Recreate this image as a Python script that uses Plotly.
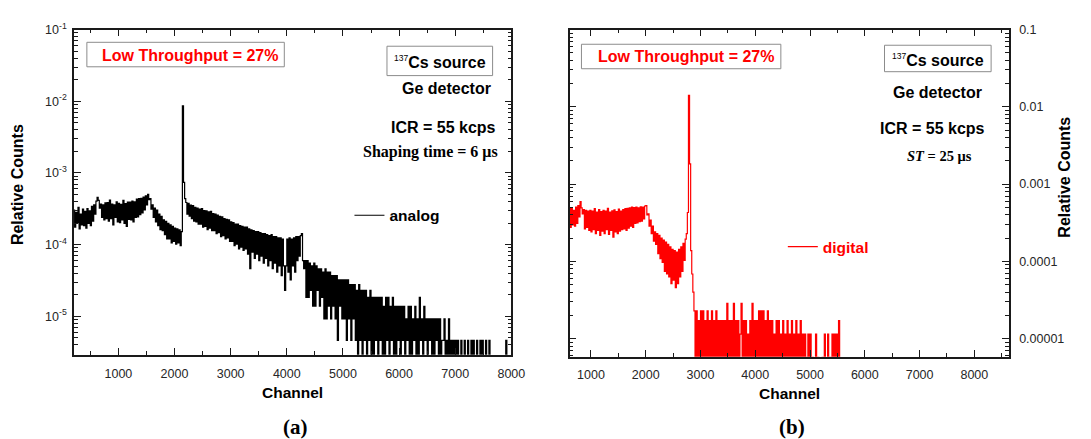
import plotly.graph_objects as go

W, H = 1091, 439

# ---------------- data ----------------
CHANNEL_STEP = 20

# (a) analog spectrum, counts per 20-channel sample starting at channel 200
analog_start = 200
analog_counts = [
    66, 38, 61, 44, 72, 36, 58, 41, 68, 40,
    63, 37, 69, 43, 64, 40, 74, 46, 78, 58,
    88, 99, 90, 70, 80, 52, 78, 48, 83, 50,
    84, 46, 91, 50, 80, 41, 78, 52, 86, 45,
    82, 44, 79, 48, 90, 43, 81, 39, 85, 49,
    85, 48, 88, 45, 86, 52, 94, 53, 95, 57,
    96, 60, 100, 66, 104, 78, 109, 92, 95, 68,
    78, 52, 70, 45, 66, 40, 58, 35, 54, 34,
    48, 30, 46, 26, 43, 26, 41, 23, 39, 24,
    37, 22, 36, 23, 35, 21, 33, 1870, 160, 95,
    84, 58, 82, 54, 77, 50, 76, 46, 72, 45,
    70, 42, 68, 42, 69, 38, 65, 39, 64, 35,
    62, 37, 63, 34, 59, 34, 58, 31, 56, 32,
    54, 28, 53, 29, 50, 26, 49, 27, 48, 24,
    45, 24, 44, 21, 42, 22, 42, 19, 40, 20,
    39, 18, 38, 19, 38, 16, 36, 10, 35, 17,
    34, 14, 33, 16, 33, 13, 32, 15, 31, 12,
    31, 14, 30, 11, 29, 13, 30, 10, 28, 12,
    28, 9, 27, 11, 27, 8, 26, 11, 5, 11,
    26, 9, 27, 7, 26, 11, 27, 9, 28, 13,
    28, 15, 29, 31, 13, 10, 13, 4, 13, 4,
    12, 5, 11, 3, 12, 3, 11, 5, 10, 3,
    10, 4, 9, 2, 10, 2, 9, 3, 9, 2,
    8, 3, 8, 2, 8, 1, 7, 3, 7, 2,
    7, 2, 7, 1, 7, 2, 6, 1, 6, 2,
    6, 1, 5, 0, 6, 1, 5, 0, 5, 1,
    5, 0, 4, 1, 5, 0, 4, 0, 4, 1,
    4, 0, 4, 1, 4, 0, 3, 0, 4, 1,
    4, 0, 3, 1, 4, 0, 3, 0, 3, 1,
    3, 0, 3, 1, 3, 0, 2, 1, 3, 0,
    3, 0, 2, 1, 3, 0, 2, 0, 4, 1,
    2, 0, 3, 1, 2, 0, 2, 1, 2, 0,
    2, 0, 2, 1, 2, 0, 2, 0, 1, 1,
    2, 0, 1, 0, 2, 0, 1, 0, 1, 0,
    1, 0, 1, 0, 0, 1, 0, 0, 1, 0,
    0, 1, 0, 0, 1, 0, 1, 0, 0, 1,
    0, 0, 1, 0, 1, 0, 0, 1, 0, 0,
    1, 0, 0, 0, 0, 0, 0, 0, 0, 0,
    0, 0, 0, 0, 0, 1, 0, 0, 0, 0,
    0,
]
ANALOG_TOTAL = 217000          # counts that make relative count = 1

# (b) digital spectrum, counts per 20-channel sample starting at channel 600
digital_start = 600
digital_counts = [
    84, 48, 86, 52, 80, 50, 88, 54, 92, 66,
    104, 86, 72, 82, 46, 80, 48, 78, 44, 80,
    42, 78, 45, 84, 40, 76, 44, 82, 38, 77,
    43, 80, 40, 78, 45, 85, 39, 76, 44, 79,
    36, 81, 42, 77, 40, 83, 43, 78, 45, 82,
    46, 84, 44, 85, 47, 86, 50, 88, 48, 87,
    54, 88, 55, 86, 57, 89, 58, 88, 62, 91,
    92, 70, 72, 50, 60, 40, 50, 32, 42, 29,
    40, 22, 38, 19, 35, 17, 33, 13, 31, 12,
    29, 11, 27, 9, 25, 10, 24, 8, 23, 9,
    25, 11, 27, 13, 30, 18, 34, 40, 75, 2470,
    320, 24, 12, 7, 4, 1, 4, 0, 3, 1,
    4, 0, 4, 1, 3, 0, 4, 1, 3, 0,
    4, 1, 3, 0, 4, 1, 3, 0, 3, 1,
    3, 0, 3, 1, 5, 0, 3, 1, 3, 0,
    5, 0, 3, 1, 3, 0, 2, 5, 0, 3,
    1, 3, 0, 2, 1, 3, 0, 5, 1, 3,
    0, 3, 1, 4, 0, 4, 1, 4, 0, 3,
    1, 4, 0, 3, 1, 3, 0, 2, 1, 3,
    0, 3, 1, 2, 0, 3, 1, 2, 0, 3,
    1, 2, 0, 3, 1, 2, 0, 3, 1, 2,
    0, 3, 1, 2, 0, 2, 0, 1, 2, 0,
    2, 0, 1, 0, 0, 2, 0, 1, 0, 0,
    0, 1, 0, 2, 0, 0, 2, 0, 1, 0,
    2, 0, 2, 1, 2, 0, 3, 0, 0, 0,
    0,
]
DIGITAL_TOTAL = 175000

x_tick_vals = [1000, 2000, 3000, 4000, 5000, 6000, 7000, 8000]
x_minor_vals = [500, 1500, 2500, 3500, 4500, 5500, 6500, 7500, 8500]
y_tick_vals = [1e-5, 1e-4, 1e-3, 1e-2, 1e-1]
y_tick_text_a = ["10<sup>-5</sup>", "10<sup>-4</sup>", "10<sup>-3</sup>",
                 "10<sup>-2</sup>", "10<sup>-1</sup>"]
y_tick_text_b = ["0.00001", "0.0001", "0.001", "0.01", "0.1"]

# ---------------- helpers ----------------
def rel(counts, total):
    # zero counts lie below the log-axis floor
    return [c / total if c > 0 else 1e-7 for c in counts]

def chans(start, n):
    return [start + CHANNEL_STEP * i for i in range(n)]

def px(x):
    return x / W

def py(y):
    return 1 - y / H

minor_y = [k * 10.0 ** e for e in range(-6, -1) for k in range(2, 10)]

SANS = "Liberation Sans"
SERIF = "Liberation Serif"
RED = "#ff0000"

fig = go.Figure()
fig.add_trace(go.Scatter(
    x=chans(analog_start, len(analog_counts)), y=rel(analog_counts, ANALOG_TOTAL),
    mode="lines", line=dict(color="black", width=1.2, shape="hv", simplify=False),
    name="analog", xaxis="x", yaxis="y", legend="legend", showlegend=True))
fig.add_trace(go.Scatter(
    x=chans(digital_start, len(digital_counts)), y=rel(digital_counts, DIGITAL_TOTAL),
    mode="lines", line=dict(color=RED, width=1.2, shape="hv", simplify=False),
    name="digital", xaxis="x2", yaxis="y2", legend="legend2", showlegend=True))

axis_common = dict(
    showline=True, linecolor="#1a1a1a", linewidth=1.5, mirror="allticks",
    ticks="inside", ticklen=7, tickwidth=1, tickcolor="#1a1a1a",
    showgrid=False, zeroline=False,
    tickfont=dict(family=SANS, size=12.5, color="#262626"),
)
minor_common = dict(ticks="inside", ticklen=4, tickwidth=1, tickcolor="#1a1a1a", showgrid=False)

fig.update_layout(
    width=W, height=439,
    showlegend=True,
    margin=dict(l=0, r=0, t=0, b=0),
    paper_bgcolor="white", plot_bgcolor="white",
    xaxis=dict(axis_common, domain=[px(75), px(518)], range=[210, 8000],
               tickmode="array", tickvals=x_tick_vals, anchor="y",
               minor=dict(minor_common, tickmode="array", tickvals=x_minor_vals),
               ticklabelstandoff=6),
    yaxis=dict(axis_common, type="log", domain=[py(353), py(21)], range=[-5.536, -1],
               tickmode="array", tickvals=y_tick_vals, ticktext=y_tick_text_a, anchor="x",
               minor=dict(minor_common, tickmode="array", tickvals=minor_y),
               ticklabelstandoff=3),
    xaxis2=dict(axis_common, domain=[px(577), px(1022)], range=[610, 8630],
                tickmode="array", tickvals=x_tick_vals, anchor="y2",
                minor=dict(minor_common, tickmode="array", tickvals=x_minor_vals),
                ticklabelstandoff=6),
    yaxis2=dict(axis_common, type="log", side="right", domain=[py(355), py(21)],
                range=[-5.235, -1], tickmode="array", tickvals=y_tick_vals,
                ticktext=y_tick_text_b, anchor="x2",
                minor=dict(minor_common, tickmode="array", tickvals=minor_y),
                ticklabelstandoff=6),
    legend=dict(x=px(354), y=py(211), xanchor="left", yanchor="middle",
                bgcolor="rgba(0,0,0,0)", borderwidth=0, itemwidth=30, visible=True,
                font=dict(family=SANS, size=15.5, color="black", weight="bold")),
    legend2=dict(x=px(793), y=py(243), xanchor="left", yanchor="middle",
                 bgcolor="rgba(0,0,0,0)", borderwidth=0, itemwidth=30, visible=True,
                 font=dict(family=SANS, size=15.5, color=RED, weight="bold")),
)

# boxes around labels
for (x0, y0, x1, y1) in [(88, 34, 288, 59), (392, 38, 499, 68),
                         (589, 36, 791, 61), (896, 37, 1004, 64)]:
    fig.add_shape(type="rect", xref="paper", yref="paper",
                  x0=px(x0), x1=px(x1), y0=py(y1), y1=py(y0),
                  line=dict(color="#8c8c8c", width=1), fillcolor="white", layer="below")

def note(text, x, y, size=16, color="black", family=SANS, xanchor="center", angle=0):
    fig.add_annotation(text=text, x=px(x), y=py(y), xref="paper", yref="paper",
                       showarrow=False, xanchor=xanchor, yanchor="middle",
                       textangle=angle, font=dict(family=family, size=size, color=color))

sup137 = "<sup><span style='font-size:8.5px;font-weight:normal'>137</span></sup>"

# panel (a)
note("<b>Low Throughput = 27%</b>", 192.5, 47, size=16, color=RED)
note(sup137 + "<b>Cs source</b>", 446, 54)
note("<b>Ge detector</b>", 499, 81, xanchor="right")
note("<b>ICR = 55 kcps</b>", 504, 121, xanchor="right")
note("<b>Shaping time = 6 \u03bcs</b>", 506, 146, size=16, family=SERIF, xanchor="right")
note("<b>Channel</b>", 296, 392, size=15.5)
note("<b>Relative Counts</b>", 18, 179, size=16, angle=-90)
note("<b>(a)</b>", 299, 427, size=21, family=SERIF)

# panel (b)
note("<b>Low Throughput = 27%</b>", 694.7, 49, size=16, color=RED)
note(sup137 + "<b>Cs source</b>", 950, 52)
note("<b>Ge detector</b>", 997, 85, xanchor="right")
note("<b>ICR = 55 kcps</b>", 1000, 122, xanchor="right")
note("<b><i>ST</i> = 25 \u03bcs</b>", 987, 150, size=14.5, family=SERIF, xanchor="right")
note("<b>Channel</b>", 800, 393, size=15.5)
note("<b>Relative Counts</b>", 1078, 172, size=16, angle=-90)
note("<b>(b)</b>", 802, 427, size=21, family=SERIF)

fig.write_html("out.html")
